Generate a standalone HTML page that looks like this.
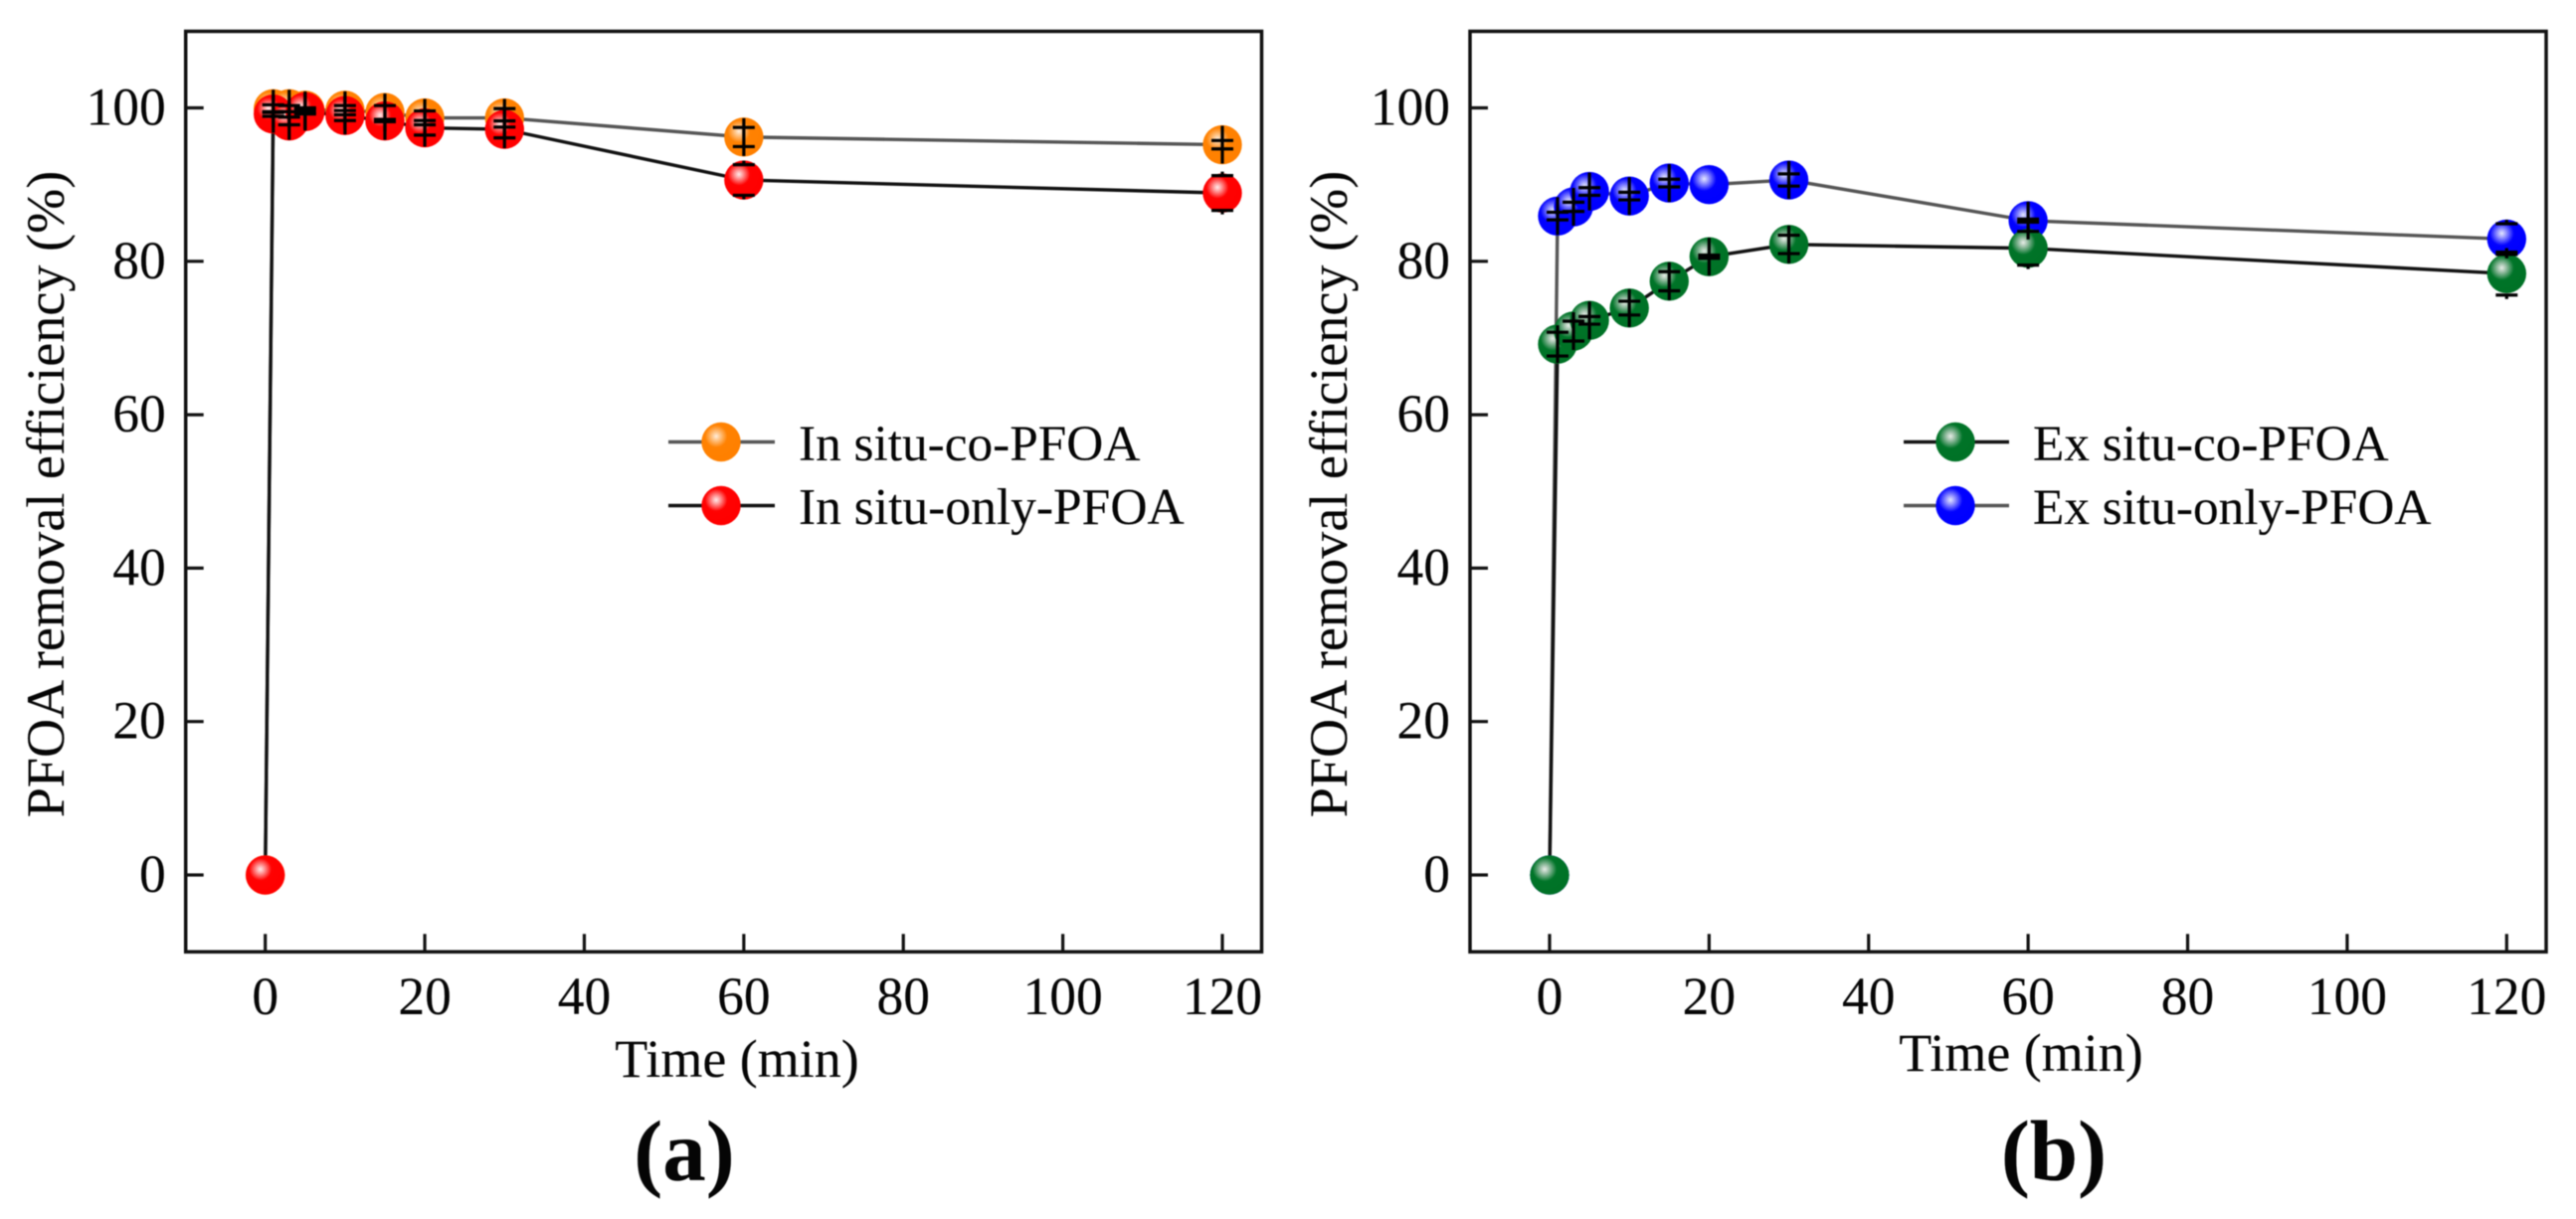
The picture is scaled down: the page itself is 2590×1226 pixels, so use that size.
<!DOCTYPE html>
<html lang="en">
<head>
<meta charset="utf-8">
<title>PFOA removal efficiency</title>
<style>
html,body{margin:0;padding:0;background:#fff;}
svg{display:block;filter:blur(0.55px);}
text{font-family:"Liberation Serif",serif;fill:#050505;stroke:#050505;stroke-width:0.1px;}
</style>
</head>
<body>
<svg id="chart" width="2590" height="1226" viewBox="0 0 2590 1226" xmlns="http://www.w3.org/2000/svg">
<defs>
<radialGradient id="g-orange" cx="0.375" cy="0.355" r="0.62"><stop offset="0" stop-color="#ffeedd"/><stop offset="0.14" stop-color="#ffcb94"/><stop offset="0.46" stop-color="#ff8202"/><stop offset="1" stop-color="#ff8000"/></radialGradient>
<radialGradient id="g-red" cx="0.375" cy="0.355" r="0.62"><stop offset="0" stop-color="#ffecec"/><stop offset="0.14" stop-color="#ffa8a8"/><stop offset="0.46" stop-color="#ff0202"/><stop offset="1" stop-color="#ff0000"/></radialGradient>
<radialGradient id="g-green" cx="0.375" cy="0.355" r="0.62"><stop offset="0" stop-color="#e8eee8"/><stop offset="0.16" stop-color="#a4c4ae"/><stop offset="0.5" stop-color="#007428"/><stop offset="1" stop-color="#007226"/></radialGradient>
<radialGradient id="g-blue" cx="0.375" cy="0.355" r="0.62"><stop offset="0" stop-color="#e4e8ff"/><stop offset="0.16" stop-color="#a0a0ff"/><stop offset="0.5" stop-color="#0202ff"/><stop offset="1" stop-color="#0000ff"/></radialGradient>
</defs>

<text transform="translate(64,497) rotate(-90)" text-anchor="middle" font-size="54.2">PFOA removal efficiency (%)</text>
<text x="741" y="1083" text-anchor="middle" font-size="54">Time (min)</text>
<text x="688" y="1187" text-anchor="middle" font-size="87" font-weight="bold">(a)</text>

<text transform="translate(1354,497) rotate(-90)" text-anchor="middle" font-size="54.2">PFOA removal efficiency (%)</text>
<text x="2032" y="1077" text-anchor="middle" font-size="54">Time (min)</text>
<text x="2065" y="1187" text-anchor="middle" font-size="87" font-weight="bold">(b)</text>

<g>
<line x1="672" x2="779" y1="444.5" y2="444.5" stroke="#555" stroke-width="3.4"/>
<circle cx="725" cy="444.5" r="19.7" fill="url(#g-orange)"/>
<text x="803" y="463" font-size="51.3">In situ-co-PFOA</text>
<line x1="672" x2="779" y1="508.5" y2="508.5" stroke="#111" stroke-width="3.4"/>
<circle cx="725" cy="508.5" r="19.7" fill="url(#g-red)"/>
<text x="803" y="527" font-size="51.5">In situ-only-PFOA</text>
</g>
<g>
<line x1="1914" x2="2020" y1="444.5" y2="444.5" stroke="#111" stroke-width="3.4"/>
<circle cx="1966" cy="444.5" r="19.7" fill="url(#g-green)"/>
<text x="2044" y="463" font-size="51.3">Ex situ-co-PFOA</text>
<line x1="1914" x2="2020" y1="508.5" y2="508.5" stroke="#555" stroke-width="3.4"/>
<circle cx="1966" cy="508.5" r="19.7" fill="url(#g-blue)"/>
<text x="2044" y="527" font-size="51.3">Ex situ-only-PFOA</text>
</g>
</svg>
<script>
var timeValues = [0, 1, 3, 5, 10, 15, 20, 30, 60, 120];
var xTickValues = [0, 20, 40, 60, 80, 100, 120];
var yTickValues = [0, 20, 40, 60, 80, 100];

var inSituCoValues = [0, 99.9, 99.9, 99.7, 99.7, 99.4, 98.7, 98.7, 96.2, 95.2];
var inSituCoErrors = [0, 0.5, 0.4, 0.3, 0.6, 0.9, 0.9, 1.2, 1.25, 0.55];
var inSituOnlyValues = [0, 99.2, 98.3, 99.5, 99.0, 98.3, 97.4, 97.2, 90.6, 88.9];
var inSituOnlyErrors = [0, 0.3, 0.5, 0.3, 0.65, 0.1, 0.95, 1.1, 2.0, 2.27];

var exSituCoValues = [0, 69.2, 70.9, 72.3, 73.9, 77.4, 80.6, 82.2, 81.7, 78.4];
var exSituCoErrors = [0, 1.55, 1.3, 0.5, 0.9, 1.25, 0.2, 1.2, 2.2, 2.8];
var exSituOnlyValues = [0, 85.9, 87.1, 89.1, 88.5, 90.2, 90.0, 90.6, 85.3, 82.9];
var exSituOnlyErrors = [0, 0.5, 0.6, 0.5, 0.5, 0.5, 0, 0.8, 0.2, 2.0];

var svg = document.getElementById('chart');
var NS = 'http://www.w3.org/2000/svg';

function make(tag, attrs, parent) {
  var el = document.createElementNS(NS, tag);
  for (var k in attrs) { el.setAttribute(k, attrs[k]); }
  parent.appendChild(el);
  return el;
}

function drawPanel(prefix, geom, backSeries, frontSeries) {
  var xScale = function (v) { return geom.x0 + v * (geom.x120 - geom.x0) / 120; };
  var yScale = function (v) { return geom.y0 + v * (geom.y100 - geom.y0) / 100; };
  var perUnit = (geom.y0 - geom.y100) / 100;

  var group = make('g', {}, svg);
  
  

  [backSeries, frontSeries].forEach(function (s) {
    var pts = timeValues.map(function (t, i) { return xScale(t) + ',' + yScale(s.values[i]); }).join(' ');
    var line = make('polyline', { points: pts, fill: 'none', stroke: s.stroke, 'stroke-width': 3.4, 'stroke-linejoin': 'round' }, group);
    
    
  });

  [backSeries, frontSeries].forEach(function (s) {
    timeValues.forEach(function (t, i) {
      var c = make('circle', { cx: xScale(t), cy: yScale(s.values[i]), r: 19.7, fill: s.fill }, group);
      
      
    });
  });

  [backSeries, frontSeries].forEach(function (s) {
    timeValues.forEach(function (t, i) {
      if (!s.errors[i]) { return; }
      var x = xScale(t), y = yScale(s.values[i]), e = s.errors[i] * perUnit;
      var d = 'M' + (x - 11) + ' ' + (y - e) + 'H' + (x + 11) +
              'M' + (x - 11) + ' ' + (y + e) + 'H' + (x + 11);
      if (e > 15) {
        d += 'M' + x + ' ' + (y - e - 4) + 'V' + (y - e) + 'M' + x + ' ' + (y + e) + 'V' + (y + e + 4);
      } else {
        d += 'M' + x + ' ' + (y - 19) + 'V' + (y + 19);
      }
      var bar = make('path', { d: d, fill: 'none', stroke: '#000', 'stroke-width': 3.2 }, group);
      
      
    });
  });

  var frame = make('rect', { x: geom.left, y: geom.top, width: geom.right - geom.left, height: geom.bottom - geom.top, fill: 'none', stroke: '#111', 'stroke-width': 3.5 }, svg);
  
  

  xTickValues.forEach(function (v) {
    var x = xScale(v);
    var tick = make('line', { x1: x, x2: x, y1: geom.bottom, y2: geom.bottom - 18, stroke: '#111', 'stroke-width': 3.2 }, svg);
    
    
    var label = make('text', { x: x, y: 1020, 'text-anchor': 'middle', 'font-size': 53.5 }, svg);
    label.textContent = String(v);
    
    
  });

  yTickValues.forEach(function (v) {
    var y = yScale(v);
    var tick = make('line', { x1: geom.left, x2: geom.left + 18, y1: y, y2: y, stroke: '#111', 'stroke-width': 3.2 }, svg);
    
    
    var label = make('text', { x: geom.left - 20, y: y + 17, 'text-anchor': 'end', 'font-size': 53.5 }, svg);
    label.textContent = String(v);
    
    
  });
}

drawPanel('panel-a',
  { left: 186.7, right: 1268.5, top: 31.5, bottom: 957.3, x0: 266.7, x120: 1229, y0: 880, y100: 108.5 },
  { key: 'in-situ-co', values: inSituCoValues, errors: inSituCoErrors, stroke: '#555', fill: 'url(#g-orange)' },
  { key: 'in-situ-only', values: inSituOnlyValues, errors: inSituOnlyErrors, stroke: '#111', fill: 'url(#g-red)' });

drawPanel('panel-b',
  { left: 1478, right: 2560, top: 31.5, bottom: 957.3, x0: 1558, x120: 2520.3, y0: 880, y100: 108.5 },
  { key: 'ex-situ-only', values: exSituOnlyValues, errors: exSituOnlyErrors, stroke: '#555', fill: 'url(#g-blue)' },
  { key: 'ex-situ-co', values: exSituCoValues, errors: exSituCoErrors, stroke: '#111', fill: 'url(#g-green)' });
</script>
</body>
</html>
